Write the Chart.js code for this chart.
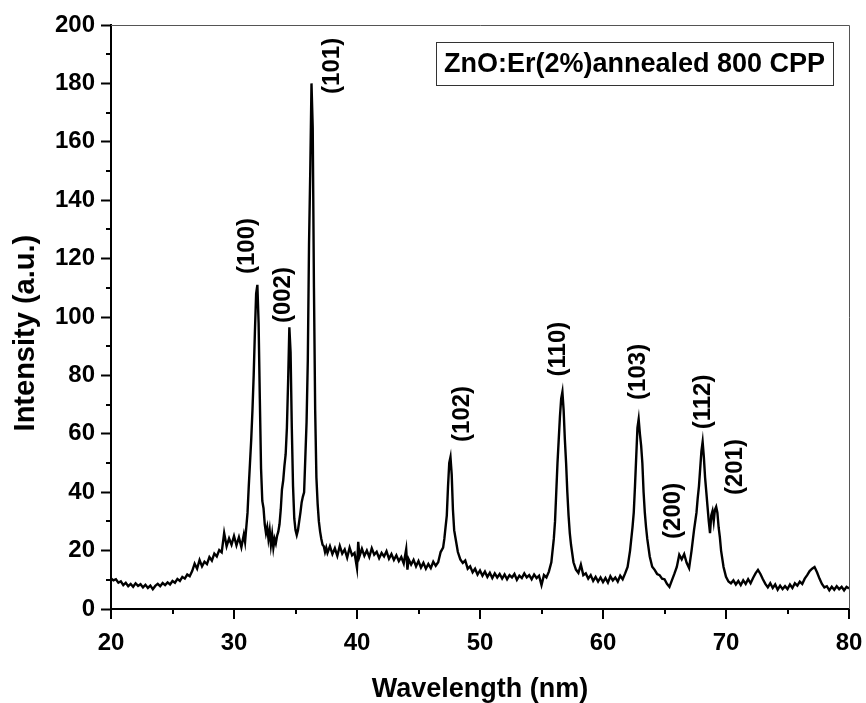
<!DOCTYPE html>
<html>
<head>
<meta charset="utf-8">
<script src="https://cdn.jsdelivr.net/npm/chart.js@4/dist/chart.umd.min.js"></script>
<style>
html,body{margin:0;padding:0;background:#fff;}
#wrap{width:866px;height:703px;}
</style>
</head>
<body>
<div id="wrap"><canvas id="c" width="866" height="703"></canvas></div>
<script>
// 2-theta positions (x axis)
const angle = [
20.0,20.2,20.4,20.6,20.8,21.0,21.2,21.4,21.6,21.8,22.0,22.2,22.4,22.6,22.8,23.0,23.2,23.4,23.6,23.8,
24.0,24.2,24.4,24.6,24.8,25.0,25.2,25.4,25.6,25.8,26.0,26.2,26.4,26.6,26.8,27.0,27.2,27.4,27.6,27.8,
28.0,28.2,28.4,28.6,28.8,29.0,29.2,29.4,29.6,29.8,30.0,30.2,30.4,30.6,30.8,
30.9,31.0,31.1,31.2,31.3,31.4,31.5,31.6,31.7,31.8,31.9,32.0,32.1,32.2,32.3,32.4,32.5,32.6,32.7,32.8,
32.9,33.0,33.1,33.2,33.3,33.4,33.5,33.6,33.7,33.8,33.9,34.0,34.1,34.2,34.3,34.4,34.5,34.6,34.7,34.8,
34.9,35.0,35.1,35.2,35.3,35.4,35.5,35.6,35.7,35.8,35.9,36.0,36.1,36.2,36.3,36.4,36.5,36.6,36.7,36.8,
36.9,37.0,37.1,37.2,37.3,37.4,37.5,37.6,
37.8,38.0,38.2,38.4,38.6,38.8,39.0,39.2,39.4,39.6,39.8,40.0,40.1,40.2,40.4,40.6,40.8,41.0,41.2,41.4,
41.6,41.8,42.0,42.2,42.4,42.6,42.8,43.0,43.2,43.4,43.6,43.8,44.0,44.1,44.2,44.4,44.6,44.8,45.0,45.2,
45.4,45.6,45.8,46.0,46.2,46.4,46.6,46.8,47.0,47.1,47.2,47.3,47.4,47.5,47.6,47.7,47.8,47.9,48.0,48.2,
48.4,48.6,48.8,49.0,49.2,49.4,49.6,49.8,50.0,50.2,50.4,50.6,50.8,51.0,51.2,51.4,51.6,51.8,52.0,52.2,
52.4,52.6,52.8,53.0,53.2,53.4,53.6,53.8,54.0,54.2,54.4,54.6,54.8,55.0,55.2,55.4,55.6,55.8,56.0,56.1,
56.2,56.3,56.4,56.5,56.6,56.7,56.8,56.9,57.0,57.1,57.2,57.3,57.4,57.6,57.8,58.0,58.2,58.4,58.6,58.8,
59.0,59.2,59.4,59.6,59.8,60.0,60.2,60.4,60.6,60.8,61.0,61.2,61.4,61.6,61.8,62.0,62.2,62.4,62.5,62.6,
62.7,62.8,62.9,63.0,63.1,63.2,63.3,63.4,63.5,63.6,63.8,64.0,64.2,64.4,64.6,64.8,65.0,65.2,65.4,65.6,
65.8,66.0,66.2,66.4,66.6,66.8,67.0,67.2,67.4,67.6,67.7,67.8,67.9,68.0,68.1,68.2,68.3,68.4,68.5,68.6,
68.7,68.8,68.9,69.0,69.1,69.2,69.3,69.4,69.5,69.6,69.8,70.0,70.2,70.4,70.6,70.8,71.0,71.2,71.4,71.6,
71.8,72.0,72.2,72.4,72.6,72.8,73.0,73.2,73.4,73.6,73.8,74.0,74.2,74.4,74.6,74.8,75.0,75.2,75.4,75.6,
75.8,76.0,76.2,76.4,76.6,76.8,77.0,77.2,77.4,77.6,77.8,78.0,78.2,78.4,78.6,78.8,79.0,79.2,79.4,79.6,
79.8,80.0
];
// intensity values (a.u.)
const intensity = [
10.5,9.8,10.2,9.0,9.5,8.2,9.0,7.8,8.6,7.6,8.8,7.9,8.5,7.4,8.3,7.2,8.0,6.8,7.9,8.6,
7.8,8.9,8.2,9.1,8.4,9.6,9.0,10.3,9.6,11.0,10.4,11.8,11.2,13.0,15.5,13.8,16.8,14.6,16.2,15.4,
17.8,16.6,19.0,18.0,20.2,19.4,26.0,21.5,24.2,22.0,25.0,21.8,24.6,21.2,25.5,
23.0,28.0,33.0,42.0,50.0,58.0,68.0,80.0,95.0,108.0,111.0,98.0,72.0,48.0,37.0,34.5,29.0,26.0,28.0,24.0,
27.0,22.0,25.5,21.0,24.0,22.5,25.0,26.5,29.0,34.0,41.0,44.0,49.0,53.0,62.0,78.0,96.5,88.0,62.0,42.0,
31.0,27.0,25.3,27.0,30.0,33.0,36.5,38.5,40.0,52.0,64.0,85.0,125.0,150.0,180.0,165.0,110.0,68.0,45.0,36.0,
30.0,26.5,24.0,22.0,21.5,19.5,21.0,19.2,
21.5,18.8,20.8,18.2,21.6,19.0,20.4,17.6,21.0,18.4,19.2,14.0,23.0,18.0,20.6,18.2,20.0,17.8,20.8,18.6,
19.6,17.4,19.2,18.0,19.8,17.2,18.8,16.8,18.4,16.4,17.8,15.6,20.5,13.5,17.0,15.2,16.8,14.6,16.4,14.2,
15.8,13.8,15.4,14.0,16.2,14.8,16.0,19.5,21.0,24.0,28.0,32.0,42.0,50.0,52.0,46.0,34.0,27.0,24.5,19.5,
17.0,15.8,16.6,13.8,14.6,12.6,13.8,11.8,13.2,11.4,12.8,11.0,12.4,10.6,12.2,10.8,12.0,10.4,11.8,10.2,
11.6,10.8,12.0,10.0,11.4,10.6,12.2,10.8,11.6,10.2,11.8,10.6,11.4,8.2,11.6,10.8,12.8,16.0,24.0,30.0,
40.0,50.0,58.0,66.0,72.0,74.3,68.0,58.0,50.0,40.0,32.0,26.0,22.0,16.0,13.5,12.4,15.2,11.6,12.2,10.4,
11.6,9.6,11.0,9.4,10.8,9.2,10.6,9.0,11.2,9.8,10.8,9.4,11.4,10.2,12.2,14.4,20.0,28.0,33.0,42.0,
52.0,62.0,65.0,60.0,56.0,50.0,40.0,33.0,28.0,24.0,18.0,14.5,13.4,12.0,11.6,10.4,10.2,8.6,7.6,9.8,
12.0,14.4,18.6,17.0,18.8,15.8,14.0,20.0,27.0,33.0,38.0,42.0,48.0,54.0,57.2,52.0,45.0,40.0,35.0,30.0,
26.0,32.0,33.5,30.0,34.0,35.0,33.0,28.0,24.6,20.0,14.4,11.0,9.4,8.8,9.8,8.4,9.6,8.2,9.8,8.6,
10.2,8.8,10.6,12.2,13.4,12.0,10.2,8.6,7.4,8.8,7.2,8.4,6.6,8.0,6.8,7.8,6.8,8.4,7.2,8.8,
8.0,9.4,8.6,10.4,11.6,13.0,13.8,14.4,12.6,10.4,8.6,7.4,7.8,6.4,7.6,6.6,7.8,6.8,7.6,6.4,
7.6,7.0
];
// peak index labels and their anchor positions (data units)
const peakLabels = ['(100)','(002)','(101)','(102)','(110)','(103)','(200)','(112)','(201)'];
const peakX = [31.06, 33.98, 37.97, 48.54, 56.34, 62.85, 65.69, 68.13, 70.73];
const peakY = [124.3, 107.5, 186.0, 66.8, 89.0, 81.2, 33.6, 70.9, 48.6];
const sampleLabel = 'ZnO:Er(2%)annealed 800 CPP';
const xTitle = 'Wavelength (nm)';
const yTitle = 'Intensity (a.u.)';

const FONT = '"Liberation Sans", Arial, Helvetica, sans-serif';

const decorPlugin = {
  id: 'decor',
  afterDraw(chart) {
    const ctx = chart.ctx;
    const a = chart.chartArea;
    const xs = chart.scales.x, ys = chart.scales.y;
    ctx.save();
    // top and right frame lines
    ctx.strokeStyle = '#555';
    ctx.lineWidth = 1;
    ctx.beginPath();
    ctx.moveTo(a.left, a.top + 0.5); ctx.lineTo(a.right + 0.5, a.top + 0.5);
    ctx.lineTo(a.right + 0.5, a.bottom);
    ctx.stroke();
    // x-axis major and minor tick marks, y-axis minor tick marks
    ctx.strokeStyle = '#000';
    ctx.lineWidth = 2;
    ctx.beginPath();
    for (let v = 10; v < 200; v += 20) {
      const py = Math.round(ys.getPixelForValue(v));
      ctx.moveTo(a.left - 5, py); ctx.lineTo(a.left, py);
    }
    xs.ticks.forEach(t => {
      const px = Math.round(xs.getPixelForValue(t.value));
      ctx.moveTo(px, a.bottom); ctx.lineTo(px, a.bottom + 10);
    });
    for (let v = 25; v < 80; v += 10) {
      const px = Math.round(xs.getPixelForValue(v));
      ctx.moveTo(px, a.bottom); ctx.lineTo(px, a.bottom + 5);
    }
    ctx.stroke();
    // peak labels
    ctx.fillStyle = '#000';
    ctx.font = 'bold 24px ' + FONT;
    ctx.textAlign = 'center';
    ctx.textBaseline = 'middle';
    peakLabels.forEach((t, i) => {
      ctx.save();
      ctx.translate(xs.getPixelForValue(peakX[i]), ys.getPixelForValue(peakY[i]));
      ctx.rotate(-Math.PI / 2);
      ctx.fillText(t, 0, 0);
      ctx.restore();
    });
    // sample box
    ctx.font = 'bold 27px ' + FONT;
    const tw = ctx.measureText(sampleLabel).width;
    const bw = Math.round(tw + 16), bh = 43;
    const bx = Math.round(a.right - 16 - bw), by = Math.round(a.top + 17);
    ctx.fillStyle = '#fff';
    ctx.fillRect(bx, by, bw, bh);
    ctx.strokeStyle = '#333';
    ctx.lineWidth = 1;
    ctx.strokeRect(bx + 0.5, by + 0.5, bw, bh);
    ctx.fillStyle = '#000';
    ctx.textAlign = 'center';
    ctx.textBaseline = 'middle';
    ctx.fillText(sampleLabel, bx + bw / 2, by + bh / 2 + 1);
    ctx.restore();
  }
};

new Chart(document.getElementById('c'), {
  type: 'line',
  data: {
    datasets: [{
      label: sampleLabel,
      data: angle.map((a, i) => ({x: a, y: intensity[i]})),
      borderColor: '#000',
      borderWidth: 2.4,
      pointRadius: 0,
      tension: 0,
      fill: false
    }]
  },
  options: {
    responsive: false,
    animation: false,
    devicePixelRatio: 1,
    layout: {padding: {top: 25, right: 17, left: 0, bottom: 0}},
    plugins: {legend: {display: false}, tooltip: {enabled: false}},
    scales: {
      x: {
        type: 'linear', min: 20, max: 80,
        afterFit(s) { s.height = 94; },
        ticks: {stepSize: 10, color: '#000', padding: 0, font: {family: FONT, size: 24, weight: 'bold'}},
        grid: {display: true, drawOnChartArea: false, drawTicks: true, tickLength: 20, tickWidth: 2, tickColor: 'rgba(0,0,0,0)', color: 'rgba(0,0,0,0)'},
        border: {display: true, color: '#000', width: 2},
        title: {display: true, text: xTitle, color: '#000', padding: {top: 0, bottom: 0}, font: {family: FONT, size: 27, weight: 'bold', lineHeight: 1.0}}
      },
      y: {
        type: 'linear', min: 0, max: 200,
        afterFit(s) { s.width = 111; },
        ticks: {stepSize: 20, color: '#000', padding: 6, font: {family: FONT, size: 24, weight: 'bold'}},
        grid: {display: true, drawOnChartArea: false, drawTicks: true, tickLength: 10, tickWidth: 2, tickColor: '#000', color: '#000'},
        border: {display: true, color: '#000', width: 2},
        title: {display: true, text: yTitle + '\u00a0\u00a0\u00a0\u00a0', color: '#000', padding: {top: 9, bottom: 0}, font: {family: FONT, size: 29, weight: 'bold', lineHeight: 1.2}}
      }
    }
  },
  plugins: [decorPlugin]
});
</script>
</body>
</html>
